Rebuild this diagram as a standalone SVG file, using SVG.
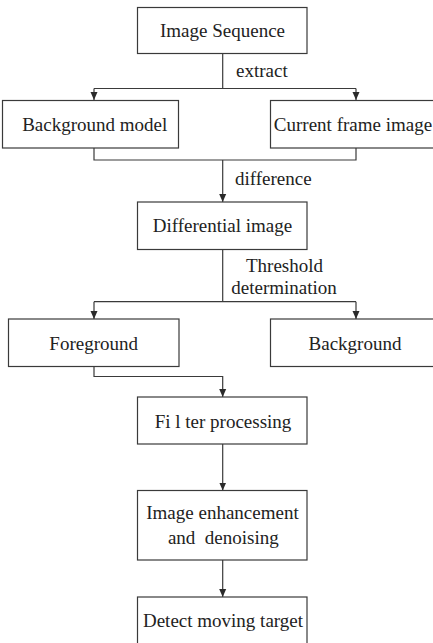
<svg xmlns="http://www.w3.org/2000/svg" width="433" height="643" viewBox="0 0 433 643">
  <style>
    .box { fill: #ffffff; stroke: #3a3a3a; stroke-width: 1.2; }
    .wire { fill: none; stroke: #3a3a3a; stroke-width: 1.2; }
    .mid { text-anchor: middle; }
  </style>
  <defs>
    <marker id="arrow" markerUnits="userSpaceOnUse" markerWidth="8" markerHeight="10" viewBox="0 0 8 10" refX="8" refY="5" orient="auto">
      <path d="M0,1.5 L8,5 L0,8.5 Z" fill="#2a2a2a"/>
    </marker>
  </defs>
  <rect width="433" height="643" fill="#ffffff"/>

  <g font-family="Liberation Serif, DejaVu Serif, serif" font-size="19" fill="#222222">
  <g id="connectors">
    <!-- sequence splits into the two inputs -->
    <path class="wire" d="M222.7,53.5 V88.5"/>
    <path class="wire" d="M94,88.5 H356"/>
    <path class="wire" d="M94,88.5 V100" marker-end="url(#arrow)"/>
    <path class="wire" d="M356,88.5 V100" marker-end="url(#arrow)"/>
    <!-- inputs merge into the difference -->
    <path class="wire" d="M94,148 V160 H356 V148"/>
    <path class="wire" d="M222.7,160 V202" marker-end="url(#arrow)"/>
    <!-- threshold split -->
    <path class="wire" d="M222.7,249.5 V301.7"/>
    <path class="wire" d="M94,301.7 H356"/>
    <path class="wire" d="M94,301.7 V319" marker-end="url(#arrow)"/>
    <path class="wire" d="M356,301.7 V319" marker-end="url(#arrow)"/>
    <!-- foreground to filtering -->
    <path class="wire" d="M94,366.5 V376.5 H222.7 V397" marker-end="url(#arrow)"/>
    <path class="wire" d="M222.7,444 V490.5" marker-end="url(#arrow)"/>
    <path class="wire" d="M222.7,560 V597" marker-end="url(#arrow)"/>
    <!-- edge labels -->
    <text x="236" y="76.7">extract</text>
    <text x="235" y="185">difference</text>
    <text class="mid" x="284.5" y="271.7">Threshold</text>
    <text class="mid" x="284" y="294">determination</text>
  </g>

  <g id="image-sequence">
    <rect class="box" x="137.5" y="7.5" width="169.5" height="46"/>
    <text class="mid" x="222.5" y="36.7">Image Sequence</text>
  </g>
  <g id="background-model">
    <rect class="box" x="2.5" y="100.5" width="176" height="47.5"/>
    <text class="mid" x="94.7" y="130.7">Background model</text>
  </g>
  <g id="current-frame">
    <rect class="box" x="270.5" y="100.5" width="172" height="47.5"/>
    <text class="mid" x="353" y="130.7">Current frame image</text>
  </g>
  <g id="differential-image">
    <rect class="box" x="137.5" y="202" width="169.5" height="47.5"/>
    <text class="mid" x="222.5" y="231.7">Differential image</text>
  </g>
  <g id="foreground">
    <rect class="box" x="8.5" y="319" width="170.5" height="47.5"/>
    <text class="mid" x="93.7" y="350">Foreground</text>
  </g>
  <g id="background">
    <rect class="box" x="270.5" y="319" width="172" height="47.5"/>
    <text class="mid" x="355" y="350">Background</text>
  </g>
  <g id="filter-processing">
    <rect class="box" x="137.5" y="397" width="169.5" height="47"/>
    <text class="mid" x="223" y="428.3">Fi l ter processing</text>
  </g>
  <g id="enhancement">
    <rect class="box" x="137.5" y="490.5" width="169.5" height="69.5"/>
    <text class="mid" x="222.5" y="519.3">Image enhancement</text>
    <text class="mid" x="223.3" y="544" xml:space="preserve">and  denoising</text>
  </g>
  <g id="detect">
    <rect class="box" x="137.5" y="597" width="169.5" height="47"/>
    <text class="mid" x="223" y="626.7">Detect moving target</text>
  </g>
  </g>
</svg>
